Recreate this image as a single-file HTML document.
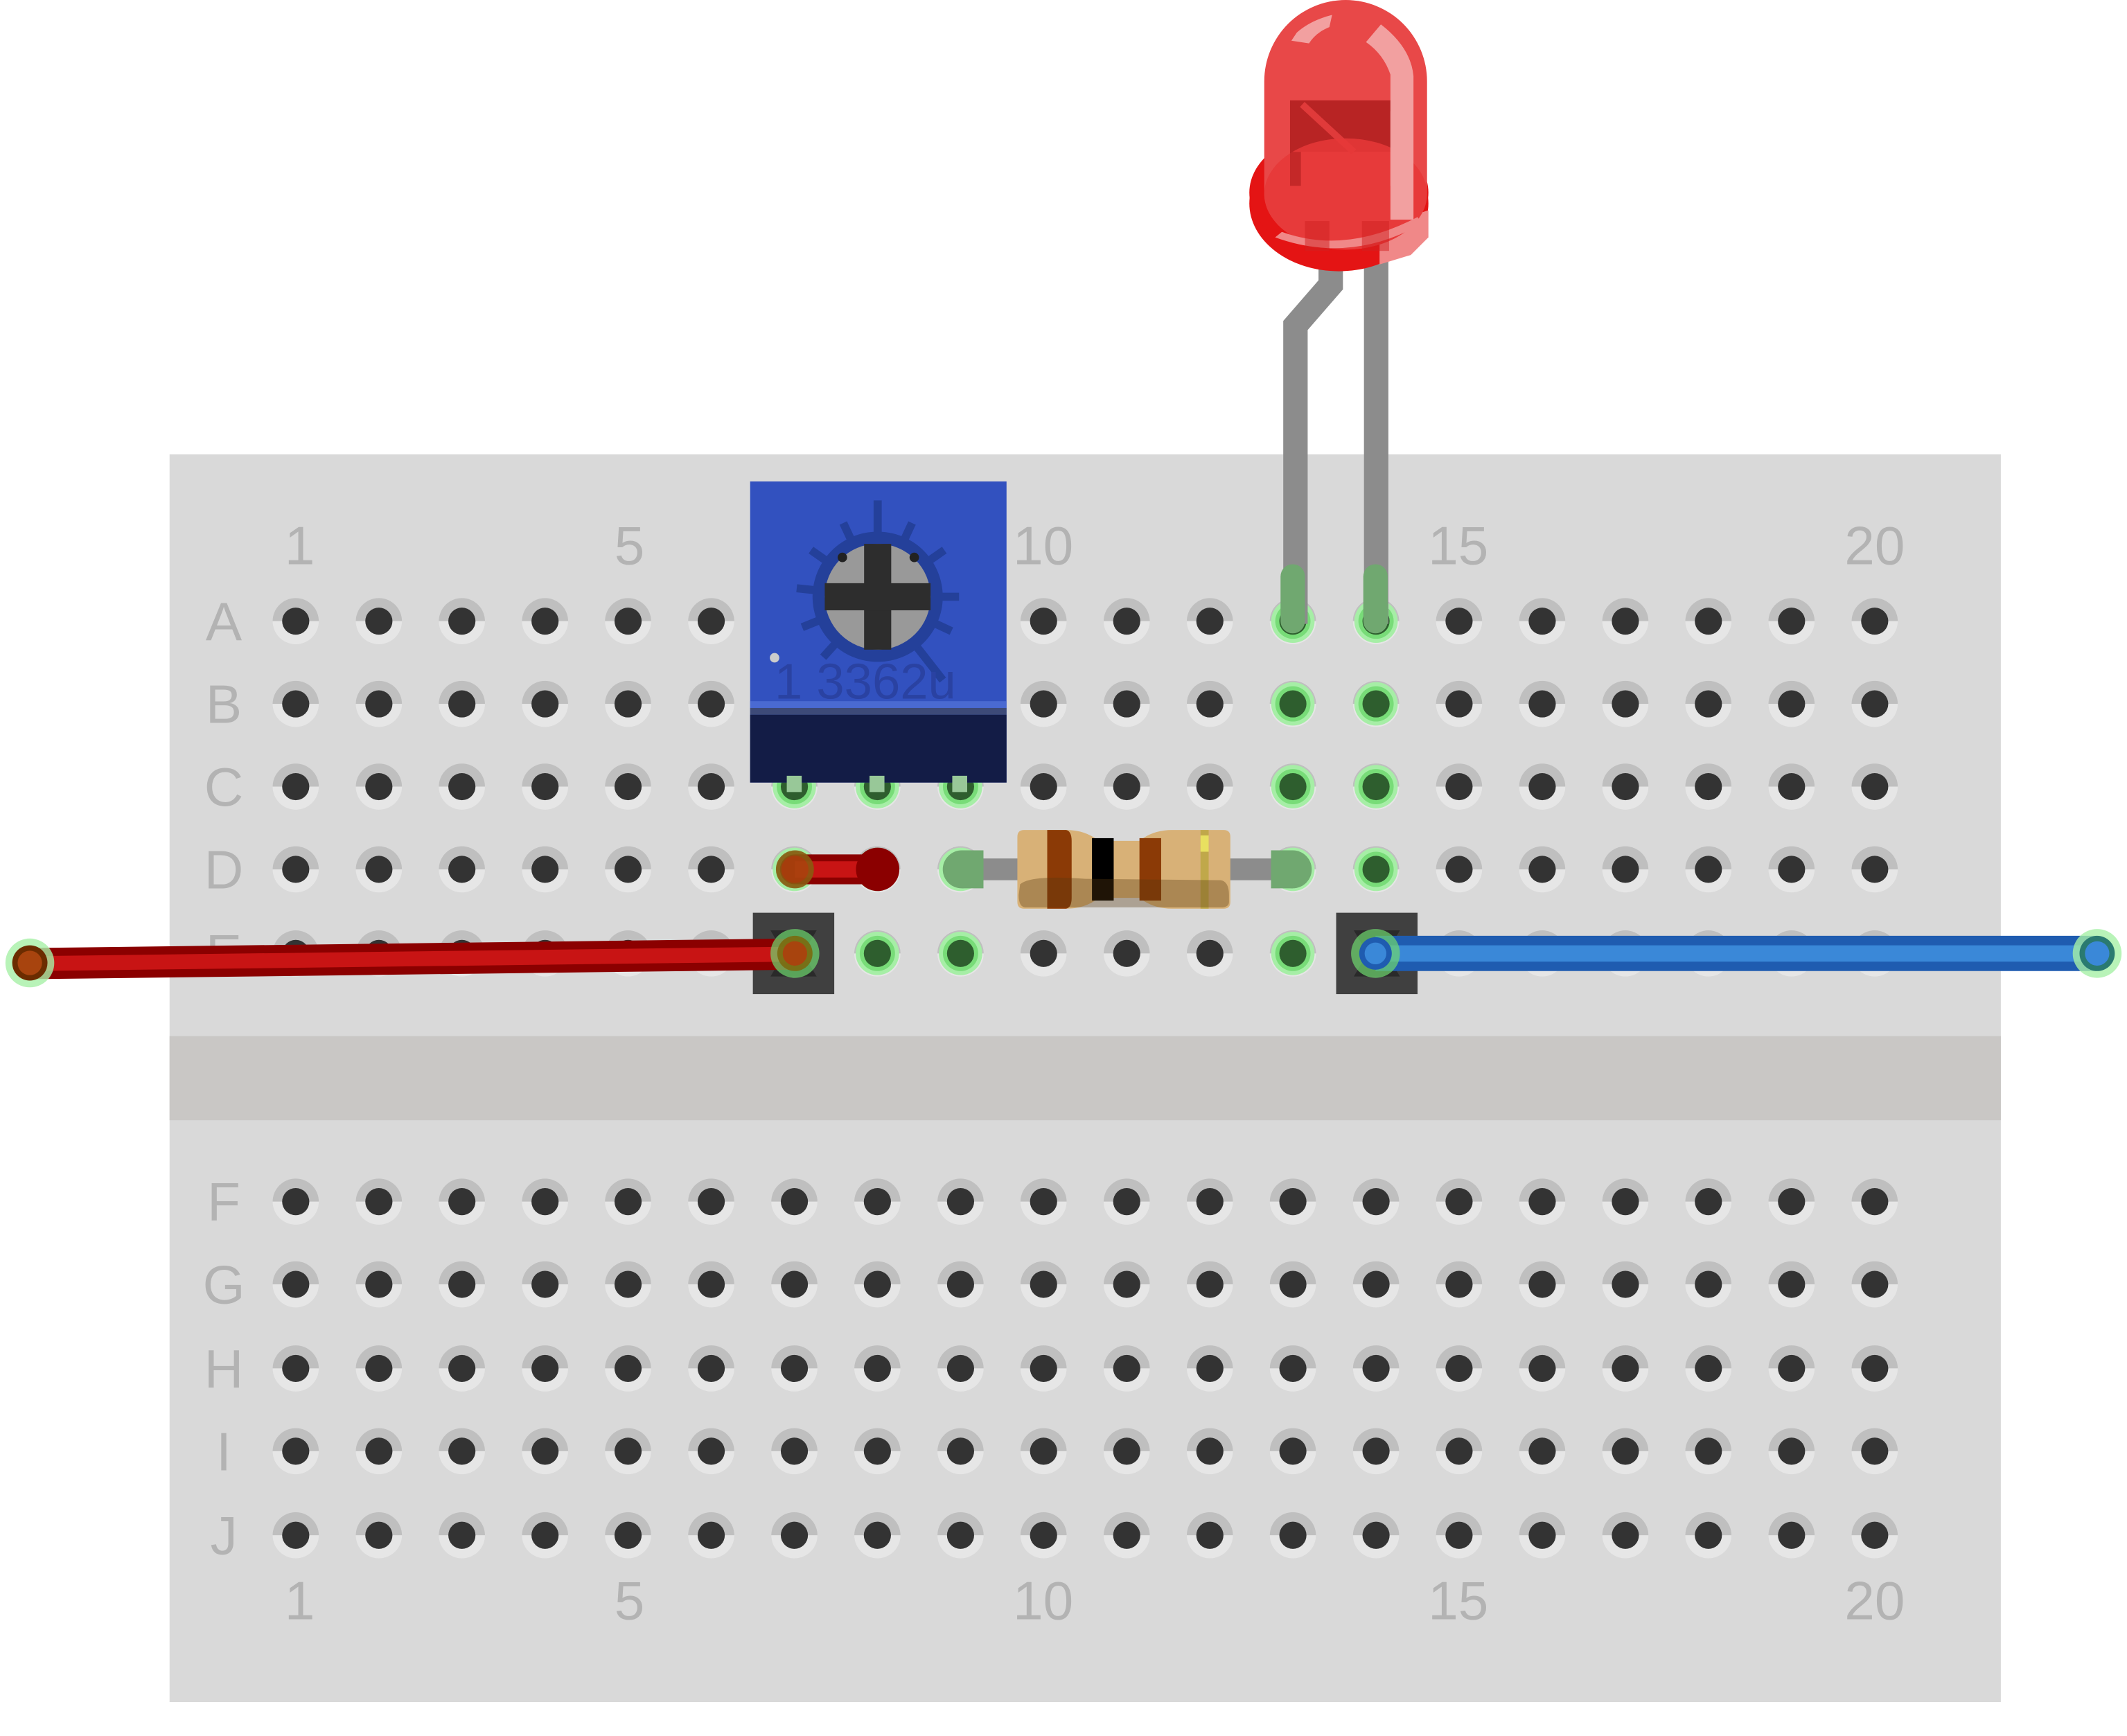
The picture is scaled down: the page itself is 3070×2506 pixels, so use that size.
<!DOCTYPE html>
<html><head><meta charset="utf-8"><style>html,body{margin:0;padding:0;background:#fff}svg{display:block}</style></head>
<body>
<svg width="3070" height="2506" viewBox="0 0 1568 1280" preserveAspectRatio="none" xmlns="http://www.w3.org/2000/svg">
<defs>
<g id="h"><path d="M-17,0 A17,17 0 0 1 17,0Z" fill="#bfbfbf"/><path d="M-17,0 A17,17 0 0 0 17,0Z" fill="#e6e6e6"/><circle r="10" fill="#333"/></g>
<g id="g"><path d="M-17,0 A17,17 0 0 1 17,0Z" fill="#bfbfbf"/><path d="M-17,0 A17,17 0 0 0 17,0Z" fill="#e6e6e6"/><circle r="16" fill="#a6eea6"/><circle r="13" fill="#78dc78"/><circle r="10" fill="#2e5e2e"/></g>
<g id="row"><use href="#h" x="218"/><use href="#h" x="279.3"/><use href="#h" x="340.5"/><use href="#h" x="401.8"/><use href="#h" x="463"/><use href="#h" x="524.3"/><use href="#h" x="585.6"/><use href="#h" x="646.8"/><use href="#h" x="708.1"/><use href="#h" x="769.3"/><use href="#h" x="830.6"/><use href="#h" x="891.9"/><use href="#h" x="953.1"/><use href="#h" x="1014.4"/><use href="#h" x="1075.6"/><use href="#h" x="1136.9"/><use href="#h" x="1198.2"/><use href="#h" x="1259.4"/><use href="#h" x="1320.7"/><use href="#h" x="1382"/></g>
</defs>
<rect x="125" y="335" width="1350" height="920" fill="#d9d9d9"/>
<rect x="125" y="764" width="1350" height="62" fill="#c9c7c5"/>
<g font-family="Liberation Sans, sans-serif" font-size="40" fill="#b3b3b3" text-anchor="middle">
<text x="221" y="416">1</text><text x="464" y="416">5</text><text x="769" y="416">10</text><text x="1075" y="416">15</text><text x="1382" y="416">20</text>
<text x="221" y="1194">1</text><text x="464" y="1194">5</text><text x="769" y="1194">10</text><text x="1075" y="1194">15</text><text x="1382" y="1194">20</text>
<text x="165" y="472">A</text><text x="165" y="533">B</text><text x="165" y="594">C</text><text x="165" y="655">D</text><text x="165" y="717">E</text>
<text x="165" y="900">F</text><text x="165" y="961">G</text><text x="165" y="1023">H</text><text x="165" y="1084">I</text><text x="165" y="1146">J</text>
</g>
<use href="#row" y="458"/><use href="#row" y="519"/><use href="#row" y="580"/><use href="#row" y="641"/><use href="#row" y="703"/>
<use href="#row" y="886"/><use href="#row" y="947"/><use href="#row" y="1009"/><use href="#row" y="1070"/><use href="#row" y="1132"/>
<use href="#g" x="953.1" y="458"/><use href="#g" x="1014.4" y="458"/>
<use href="#g" x="953.1" y="519"/><use href="#g" x="1014.4" y="519"/>
<use href="#g" x="585.6" y="580"/><use href="#g" x="646.8" y="580"/><use href="#g" x="708.1" y="580"/><use href="#g" x="953.1" y="580"/><use href="#g" x="1014.4" y="580"/>
<use href="#g" x="585.6" y="641"/><use href="#g" x="646.8" y="641"/><use href="#g" x="708.1" y="641"/><use href="#g" x="953.1" y="641"/><use href="#g" x="1014.4" y="641"/>
<use href="#g" x="646.8" y="703"/><use href="#g" x="708.1" y="703"/><use href="#g" x="953.1" y="703"/>
<!-- potentiometer -->
<rect x="553" y="355" width="189" height="222" fill="#3251bf"/>
<rect x="553" y="517" width="189" height="5" fill="#4a6ad2"/>
<rect x="553" y="522" width="189" height="5" fill="#3d4a78"/>
<rect x="553" y="527" width="189" height="50" fill="#131c46"/>
<rect x="580" y="572" width="11" height="12" fill="#98c898"/><rect x="641" y="572" width="11" height="12" fill="#98c898"/><rect x="702" y="572" width="11" height="12" fill="#98c898"/>
<g stroke="#24409a" stroke-width="6" transform="translate(647,440)">
<line x1="0" y1="0" x2="0" y2="-71"/>
<line x1="0" y1="0" x2="0" y2="-60" transform="rotate(25)"/>
<line x1="0" y1="0" x2="0" y2="-60" transform="rotate(55)"/>
<line x1="0" y1="0" x2="0" y2="-60" transform="rotate(90)"/>
<line x1="0" y1="0" x2="0" y2="-60" transform="rotate(115)"/>
<line x1="0" y1="0" x2="0" y2="-78" transform="rotate(142)"/>
<line x1="0" y1="0" x2="0" y2="-60" transform="rotate(222)"/>
<line x1="0" y1="0" x2="0" y2="-60" transform="rotate(248)"/>
<line x1="0" y1="0" x2="0" y2="-60" transform="rotate(276)"/>
<line x1="0" y1="0" x2="0" y2="-60" transform="rotate(305)"/>
<line x1="0" y1="0" x2="0" y2="-60" transform="rotate(335)"/>
</g>
<circle cx="647" cy="440" r="48" fill="#24409a"/>
<circle cx="647" cy="440" r="39" fill="#999"/>
<rect x="637" y="401" width="20" height="78" fill="#2d2d2d"/>
<rect x="608" y="430" width="78" height="20" fill="#2d2d2d"/>
<circle cx="621" cy="411" r="3.5" fill="#222"/><circle cx="674" cy="411" r="3.5" fill="#222"/>
<circle cx="571" cy="485" r="3.5" fill="#ccc"/>
<text x="571" y="515" font-family="Liberation Sans, sans-serif" font-size="37" fill="#2a42a2">1 3362u</text>
<!-- LED legs -->
<path d="M981,190 V210 L955,240 V460" fill="none" stroke="#8c8c8c" stroke-width="18"/>
<line x1="1014.5" y1="190" x2="1014.5" y2="460" stroke="#8c8c8c" stroke-width="18"/>
<line x1="953" y1="425" x2="953" y2="458" stroke="#70a870" stroke-width="18" stroke-linecap="round"/>
<line x1="1014" y1="425" x2="1014" y2="458" stroke="#70a870" stroke-width="18" stroke-linecap="round"/>
<!-- LED -->
<ellipse cx="987" cy="150" rx="66" ry="50" fill="#e41414"/>
<ellipse cx="987" cy="142" rx="66" ry="46" fill="#e41414"/>
<path d="M1017,167 L1053,155 V175 L1040,188 L1017,195 Z" fill="#f08888"/>
<path d="M932,143 V60 A60,60 0 0 1 1052,60 V143 A60,41 0 0 1 932,143 Z" fill="#e84848"/>
<path d="M951,74 H1032 V112 H959 V137 H951 Z" fill="#b82424"/>
<line x1="960" y1="77" x2="998" y2="112" stroke="#e03a3a" stroke-width="5"/>
<ellipse cx="992" cy="143" rx="60" ry="41" fill="#e63838" opacity="0.85"/>
<rect x="951" y="112" width="8" height="25" fill="#b82424" opacity="0.7"/>
<rect x="1025" y="82" width="10" height="55" fill="#dc9090"/>
<path d="M1018,18 Q1040,35 1042,56 V162 H1025 V55 Q1020,40 1007,31 Z" fill="#f2a0a0"/>
<path d="M952,30 L965,32 Q970,24 980,20 L982,11 Q966,15 956,24 Z" fill="#f2a0a0"/>
<path d="M945,171 Q992,188 1045,160 L1048,165 Q995,195 940,175 Z" fill="#f08888"/>
<rect x="962" y="163" width="18" height="22" fill="#d02020" opacity="0.5"/>
<rect x="1004" y="163" width="20" height="22" fill="#d02020" opacity="0.5"/>
<!-- short red wire D7-D8 -->
<line x1="586" y1="641" x2="647" y2="641" stroke="#8b0000" stroke-width="22" stroke-linecap="round"/>
<line x1="586" y1="641" x2="647" y2="641" stroke="#c81414" stroke-width="12"/>
<circle cx="586" cy="641" r="12" fill="#a8440e" stroke="#8a5a10" stroke-width="4" opacity="0.9"/>
<circle cx="647" cy="641" r="16" fill="#8b0000"/>
<!-- resistor -->
<line x1="709" y1="641" x2="953" y2="641" stroke="#8c8c8c" stroke-width="16"/>
<circle cx="709" cy="641" r="14" fill="#70a870"/><line x1="709" y1="641" x2="725" y2="641" stroke="#70a870" stroke-width="28"/>
<circle cx="953" cy="641" r="14" fill="#70a870"/><line x1="937" y1="641" x2="953" y2="641" stroke="#70a870" stroke-width="28"/>
<path d="M755,612 H786 Q800,612 810,620 H840 Q850,612 864,612 H902 Q907,612 907,617 V665 Q907,670 902,670 H864 Q850,670 840,662 H810 Q800,670 786,670 H755 Q750,670 750,665 V617 Q750,612 755,612 Z" fill="#d8b177"/>
<path d="M772,612 H786 Q790,613 790,620 V662 Q790,669 786,670 H772 Z" fill="#8b3a06"/>
<rect x="805" y="618" width="16" height="46" fill="#000"/>
<rect x="840" y="618" width="16" height="46" fill="#8b3a06"/>
<rect x="885" y="612" width="6" height="58" fill="#c0a84a"/>
<rect x="885" y="616" width="6" height="12" fill="#e8e060"/>
<path d="M752,652 Q760,645 800,648 L900,649 Q906,650 906,660 V665 Q906,669 900,669 H756 Q751,669 751,660 Z" fill="#5a3a10" opacity="0.35"/>
<!-- black squares -->
<rect x="555" y="673" width="60" height="60" fill="#404040"/>
<path d="M568,686 H602 L592,703 L602,720 H568 L578,703 Z" fill="#2a2a2a"/>
<rect x="985" y="673" width="60" height="60" fill="#404040"/>
<path d="M998,686 H1032 L1022,703 L1032,720 H998 L1008,703 Z" fill="#2a2a2a"/>
<!-- long red wire -->
<path d="M22,699 L586,692 V715 L22,722 Z" fill="#8b0000"/>
<path d="M22,705 L586,698 V709 L22,716 Z" fill="#c81414"/>
<circle cx="22" cy="710" r="18" fill="#a6f0a6" opacity="0.8"/>
<circle cx="22" cy="710" r="13" fill="#6b2c00"/>
<circle cx="22" cy="710" r="9" fill="#a8440e"/>
<circle cx="586" cy="703" r="18" fill="#6fd86f" opacity="0.7"/>
<circle cx="586" cy="703" r="13" fill="#7a6a10" opacity="0.9"/>
<circle cx="586" cy="703" r="9" fill="#a8440e"/>
<!-- blue wire -->
<line x1="1014" y1="703" x2="1546" y2="703" stroke="#1f5cb0" stroke-width="26"/>
<line x1="1014" y1="703" x2="1546" y2="703" stroke="#3a88d8" stroke-width="12"/>
<circle cx="1014" cy="703" r="18" fill="#6fd86f" opacity="0.7"/>
<circle cx="1014" cy="703" r="12" fill="#1f5cb0"/>
<circle cx="1014" cy="703" r="8" fill="#3a88d8"/>
<circle cx="1546" cy="703" r="18" fill="#a6f0a6" opacity="0.8"/>
<circle cx="1546" cy="703" r="13" fill="#2a7a70"/>
<circle cx="1546" cy="703" r="9" fill="#3a88d8"/>
</svg>
</body></html>
